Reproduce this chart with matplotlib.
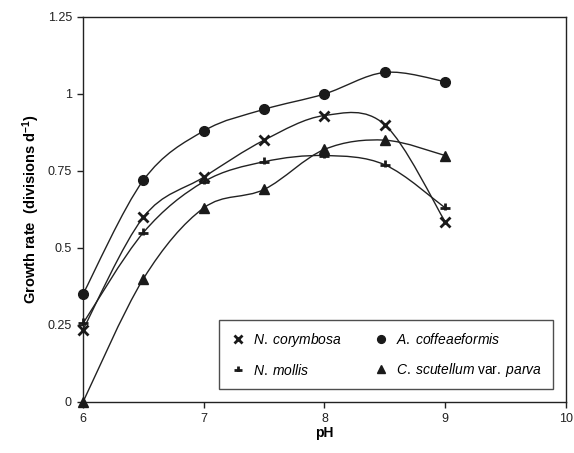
import numpy as np
import matplotlib.pyplot as plt
from matplotlib.path import Path
from matplotlib.patches import PathPatch
from matplotlib.lines import Line2D

plt.rcParams['font.family'] = ['Liberation Sans', 'DejaVu Sans']
plt.rcParams['mathtext.fontset'] = 'custom'
plt.rcParams['mathtext.rm'] = 'Liberation Sans'
plt.rcParams['mathtext.it'] = 'Liberation Sans:italic'
plt.rcParams['mathtext.bf'] = 'Liberation Sans:bold'

# Data
ph = [6, 6.5, 7, 7.5, 8, 8.5, 9]
corymbosa = [0.235, 0.60, 0.73, 0.85, 0.93, 0.90, 0.585]
coffeaeformis = [0.35, 0.72, 0.88, 0.95, 1.0, 1.07, 1.04]
mollis = [0.255, 0.55, 0.715, 0.78, 0.80, 0.77, 0.63]
scutellum = [0.0, 0.40, 0.63, 0.69, 0.82, 0.85, 0.80]

# custom marker for N. mollis (cross with short lower arm)
mollis_marker = Path([(-1, 0), (1, 0), (0, -0.4), (0, 1)],
                     [Path.MOVETO, Path.LINETO, Path.MOVETO, Path.LINETO])


def smooth_path(x, y, t=0.5):
    # Excel-like smoothed line: Catmull-Rom segments as cubic Bezier curves
    pts = np.column_stack([np.asarray(x, float), np.asarray(y, float)])
    verts = [pts[0]]
    codes = [Path.MOVETO]
    n = len(pts)
    for i in range(n - 1):
        p0 = pts[i - 1] if i > 0 else pts[i]
        p1 = pts[i]
        p2 = pts[i + 1]
        p3 = pts[i + 2] if i + 2 < n else pts[i + 1]
        c1 = p1 + (p2 - p0) * t / 3
        c2 = p2 - (p3 - p1) * t / 3
        verts += [c1, c2, p2]
        codes += [Path.CURVE4] * 3
    return Path(verts, codes)


fig = plt.figure(figsize=(5.74, 4.53), dpi=100)
ax = fig.add_axes([0.1446, 0.1126, 0.8414, 0.85])

# legend order is column-major: corymbosa, mollis | coffeaeformis, scutellum
series = [
    (corymbosa, 'x', 6.5, 2.0, r'$\it{N.\;corymbosa}$'),
    (mollis, mollis_marker, 6.5, 2.0, r'$\it{N.\;mollis}$'),
    (coffeaeformis, 'o', 7, 1, r'$\it{A.\;coffeaeformis}$'),
    (scutellum, '^', 6.5, 1, r'$\it{C.\;scutellum}\;\mathrm{var.}\;\it{parva}$'),
]

handles = []
for vals, mk, ms, mew, lab in series:
    ax.add_patch(PathPatch(smooth_path(ph, vals), fill=False, lw=1.0, ec='#222222'))
    ax.plot(ph, vals, ls='none', marker=mk, ms=ms, color='#1a1a1a',
            mew=mew, clip_on=False, zorder=3)
    handles.append(Line2D([], [], ls='none', marker=mk, ms=ms * 0.8, color='#1a1a1a',
                          mew=mew, label=lab))

ax.set_xlim(6, 10)
ax.set_ylim(0, 1.25)
ax.set_xticks([6, 7, 8, 9, 10])
ax.set_xticklabels(['6', '7', '8', '9', '10'])
ax.set_yticks([0, 0.25, 0.5, 0.75, 1, 1.25])
ax.set_yticklabels(['0', '0.25', '0.5', '0.75', '1', '1.25'])
ax.tick_params(direction='out', length=4, width=1, labelsize=9, color='#222222',
               labelcolor='#222222', pad=4)
for s in ax.spines.values():
    s.set_linewidth(1)
    s.set_color('#222222')

ax.set_xlabel('pH', fontsize=10, fontweight='bold', labelpad=1)
ax.set_ylabel(r'Growth rate  (divisions d$^{\mathbf{-1}}$)', fontsize=10.5,
              fontweight='bold', labelpad=4)

leg = ax.legend(handles=handles, ncol=2, loc='center',
                bbox_to_anchor=(0.627, 0.123),
                fontsize=10, frameon=True, fancybox=False, borderaxespad=0,
                handletextpad=0.5, columnspacing=2.2, labelspacing=1.0,
                handlelength=1.2, borderpad=0.75)
leg.get_frame().set_edgecolor('#222222')
leg.get_frame().set_linewidth(1)

fig.savefig('out.png', dpi=100)
